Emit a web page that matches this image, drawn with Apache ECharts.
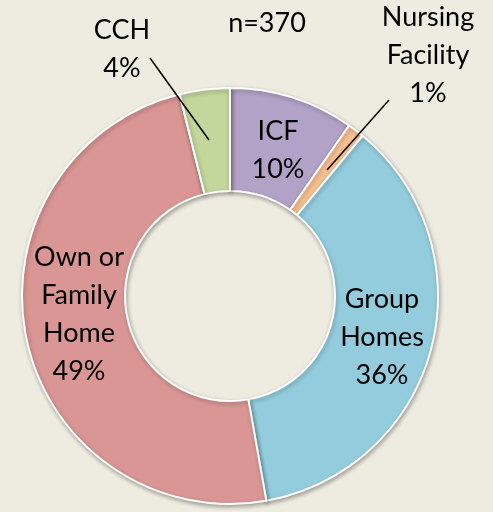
<!DOCTYPE html>
<html>
<head>
<meta charset="utf-8">
<script src="https://cdn.jsdelivr.net/npm/echarts@6/dist/echarts.min.js"></script>
<style>
html,body{margin:0;padding:0;background:#eeece1;}
#chart{width:493px;height:512px;}
</style>
</head>
<body>
<div id="chart"></div>
<script>
// Data (percent of n=370)
const categories = ['ICF', 'Nursing\nFacility', 'Group\nHomes', 'Own or\nFamily\nHome', 'CCH'];
const values = [9.7, 1.3, 36.2, 48.9, 3.9];
const colors = ['#b3a2c7', '#fac090', '#93cddd', '#d99694', '#c3d69b'];
const subtitle = 'n=370';

// Label placement (layout only)
const labelPos = [
  { x: 278, y: 150 },
  { x: 428, y: 55, line: [[389, 100], [327, 170]] },
  { x: 382, y: 337 },
  { x: 79, y: 314 },
  { x: 122, y: 49, line: [[150, 58], [209, 140]] }
];

const chart = echarts.init(document.getElementById('chart'));
chart.setOption({
  backgroundColor: '#eeece1',
  animation: false,
  title: {
    text: subtitle,
    left: 262, top: 18,
    textAlign: 'center', textVerticalAlign: 'middle',
    textStyle: { fontFamily: 'Lato', fontSize: 27, fontWeight: 'normal', color: '#000' }
  },
  graphic: labelPos.filter(p => p.line).map(p => ({
    type: 'line', z: 100,
    shape: { x1: p.line[0][0], y1: p.line[0][1], x2: p.line[1][0], y2: p.line[1][1] },
    style: { stroke: '#000', lineWidth: 1.5 }
  })),
  series: [{
    type: 'pie',
    center: [230, 296],
    radius: [105, 208],
    startAngle: 90,
    clockwise: true,
    avoidLabelOverlap: false,
    data: categories.map((c, i) => ({ name: c, value: values[i], itemStyle: { color: colors[i] } })),
    itemStyle: {
      borderColor: '#ffffff', borderWidth: 2,
      shadowBlur: 4, shadowOffsetX: 1, shadowOffsetY: 2, shadowColor: 'rgba(0,0,0,0.3)'
    },
    label: {
      show: true,
      position: 'inside',
      formatter: p => p.name + '\n' + Math.round(p.percent) + '%',
      fontFamily: 'Lato', fontSize: 27, lineHeight: 38, color: '#000', align: 'center'
    },
    labelLine: { show: false },
    labelLayout: function (params) {
      const p = labelPos[params.dataIndex];
      return { x: p.x, y: p.y, align: 'center', verticalAlign: 'middle' };
    },
    emphasis: { disabled: true }
  }]
});
</script>
</body>
</html>
